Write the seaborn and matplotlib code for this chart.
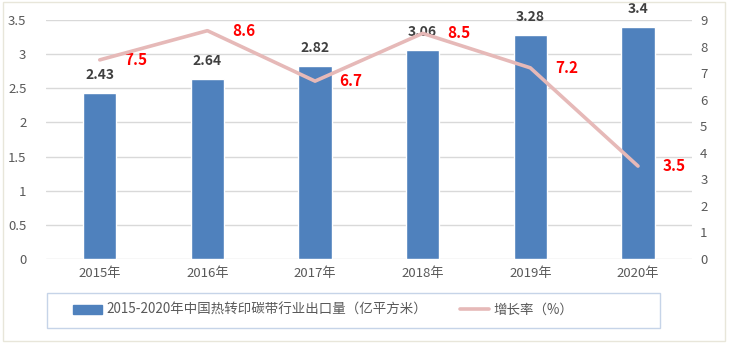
import numpy as np
import pandas as pd
import matplotlib
matplotlib.use("Agg")
import matplotlib.pyplot as plt
from matplotlib.patches import Rectangle
from matplotlib.lines import Line2D
from matplotlib.patches import Patch
import seaborn as sns

years = ["2015年", "2016年", "2017年", "2018年", "2019年", "2020年"]
export_volume = [2.43, 2.64, 2.82, 3.06, 3.28, 3.4]
growth_rate = [7.5, 8.6, 6.7, 8.5, 7.2, 3.5]
bar_label = "2015-2020年中国热转印碳带行业出口量（亿平方米）"
line_label = "增长率（%）"

sns.set_theme(style="white")
plt.rcParams['font.family'] = ['Noto Sans CJK SC', 'DejaVu Sans']

bar_color = "#4F81BD"
line_color = "#E6B9B8"
tick_color = "#595959"

W, H = 729, 347
fig = plt.figure(figsize=(7.29, 3.47), dpi=100)
ax = fig.add_axes([0.063, 0.2536, 0.886, 0.6886])

df = pd.DataFrame({"year": years, "vol": export_volume, "rate": growth_rate})
sns.barplot(data=df, x="year", y="vol", color=bar_color, width=0.31,
            saturation=1, ax=ax, zorder=3)
ax.set_ylim(0, 3.5)
ax.set_yticks(np.arange(0, 3.51, 0.5))
ax.set_yticklabels([f"{v:g}" for v in np.arange(0, 3.51, 0.5)])
ax.set_xlim(-0.5, 5.5)
ax.yaxis.grid(True, color="#D9D9D9", linewidth=1)
ax.set_axisbelow(True)
ax.set_xlabel("")
ax.set_ylabel("")
for s in ax.spines.values():
    s.set_visible(False)
ax.tick_params(axis="both", colors=tick_color, labelsize=9.5, length=0)
ax.tick_params(axis="y", pad=14)
ax.tick_params(axis="x", pad=6)

for i, v in enumerate(export_volume):
    ax.annotate(f"{v:g}", (i, v), xytext=(0, 8), textcoords="offset points",
                ha="center", va="bottom", fontsize=10, fontweight="bold",
                color="#404040")

ax2 = ax.twinx()
sns.lineplot(x=np.arange(len(years)), y=growth_rate, color=line_color,
             linewidth=2.6, ax=ax2, zorder=4)
ax2.set_ylim(0, 9)
ax2.set_yticks(range(0, 10))
for s in ax2.spines.values():
    s.set_visible(False)
ax2.tick_params(axis="y", colors=tick_color, labelsize=9.5, length=0, pad=6)
ax2.set_ylabel("")
ax2.grid(False)

for i, v in enumerate(growth_rate):
    ax2.annotate(f"{v:g}", (i, v), xytext=(26, 0), textcoords="offset points",
                 ha="center", va="center", fontsize=11, fontweight="bold",
                 color="#FF0000")

handles = [Patch(facecolor=bar_color, edgecolor=bar_color),
           Line2D([0], [0], color=line_color, linewidth=2.6)]
leg = fig.legend(handles, [bar_label, line_label], loc="center left",
                 bbox_to_anchor=(66 / W, 1 - 310 / H), ncol=2, frameon=False,
                 fontsize=9.7, labelcolor=tick_color, handlelength=2.2,
                 handleheight=0.6, handletextpad=0.3, columnspacing=2.4,
                 borderpad=0.0)

fig.patches.append(Rectangle((47 / W, 1 - 328 / H), 613 / W, 35 / H,
                             transform=fig.transFigure, fill=False,
                             edgecolor="#C6D4E8", linewidth=1))
fig.patches.append(Rectangle((0.004, 0.017), 0.99, 0.978, transform=fig.transFigure,
                             fill=False, edgecolor="#E8E6DA", linewidth=1))

fig.savefig("out.png", dpi=100)
